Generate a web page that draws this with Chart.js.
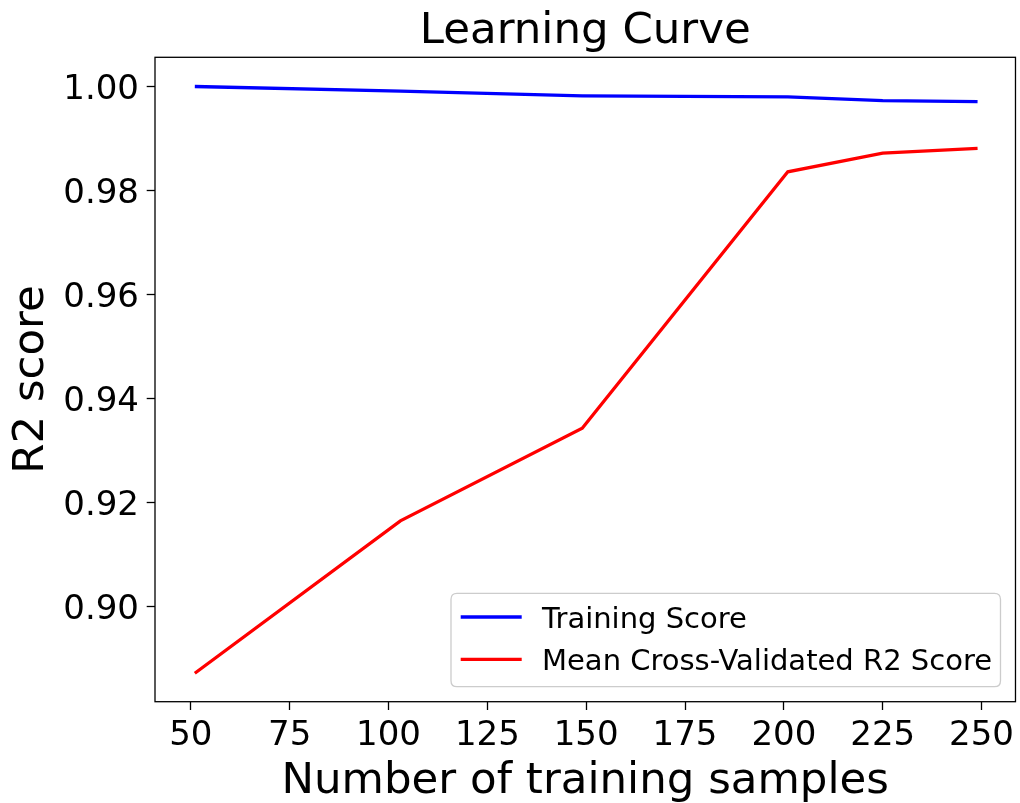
<!DOCTYPE html>
<html>
<head>
<meta charset="utf-8">
<title>Learning Curve</title>
<script src="https://cdn.jsdelivr.net/npm/chart.js@4.4.1/dist/chart.umd.min.js"></script>
<style>
  html, body { margin: 0; padding: 0; background: #ffffff; }
  canvas { display: block; }
</style>
</head>
<body>
<canvas id="chart" width="1020" height="803"></canvas>
<script>
// Training-set sizes and the scores at each size
const trainSizes = [51, 103, 149, 201, 225, 249];
const trainingScore = [1.0000, 0.9991, 0.9982, 0.9980, 0.9973, 0.9971];
const cvScore = [0.8872, 0.9165, 0.9343, 0.9836, 0.9872, 0.9881];

// Tick positions on both axes
const xTicks = [50, 75, 100, 125, 150, 175, 200, 225, 250];
const yTicks = [0.90, 0.92, 0.94, 0.96, 0.98, 1.00];

const FONT = "'DejaVu Sans', 'Liberation Sans', sans-serif";
Chart.defaults.font.family = FONT;
Chart.defaults.color = '#000000';

const toPoints = (xs, ys) => xs.map((x, i) => ({ x: x, y: ys[i] }));

// Frame around the plot area, the title above it and a boxed legend in its lower right corner
const framePlugin = {
  id: 'frameAndLegend',
  afterDraw(chart) {
    const { ctx, chartArea: a } = chart;
    ctx.save();

    // plot frame
    ctx.strokeStyle = '#000000';
    ctx.lineWidth = 1.3;
    ctx.strokeRect(a.left, a.top, a.right - a.left, a.bottom - a.top);

    // title
    ctx.fillStyle = '#000000';
    ctx.font = '43.5px ' + FONT;
    ctx.textAlign = 'center';
    ctx.textBaseline = 'alphabetic';
    ctx.fillText('Learning Curve', (a.left + a.right) / 2, 42.7);

    // legend
    const boxRight = a.right - 15, boxBottom = a.bottom - 15;
    const boxLeft = 451, boxTop = 593.3;
    const r = 6;
    ctx.beginPath();
    ctx.moveTo(boxLeft + r, boxTop);
    ctx.lineTo(boxRight - r, boxTop);
    ctx.quadraticCurveTo(boxRight, boxTop, boxRight, boxTop + r);
    ctx.lineTo(boxRight, boxBottom - r);
    ctx.quadraticCurveTo(boxRight, boxBottom, boxRight - r, boxBottom);
    ctx.lineTo(boxLeft + r, boxBottom);
    ctx.quadraticCurveTo(boxLeft, boxBottom, boxLeft, boxBottom - r);
    ctx.lineTo(boxLeft, boxTop + r);
    ctx.quadraticCurveTo(boxLeft, boxTop, boxLeft + r, boxTop);
    ctx.closePath();
    ctx.fillStyle = 'rgba(255,255,255,0.8)';
    ctx.fill();
    ctx.strokeStyle = '#cccccc';
    ctx.lineWidth = 1.3;
    ctx.stroke();

    ctx.font = '29px ' + FONT;
    ctx.textAlign = 'left';
    chart.data.datasets.forEach((ds, i) => {
      const rowY = 617 + i * 42.3;
      ctx.strokeStyle = ds.borderColor;
      ctx.lineWidth = ds.borderWidth;
      ctx.beginPath();
      ctx.moveTo(460.7, rowY);
      ctx.lineTo(521.7, rowY);
      ctx.stroke();
      ctx.fillStyle = '#000000';
      ctx.fillText(ds.label, 542, rowY + 10.6);
    });
    ctx.restore();
  }
};

new Chart(document.getElementById('chart'), {
  type: 'line',
  data: {
    datasets: [
      {
        label: 'Training Score',
        data: toPoints(trainSizes, trainingScore),
        borderColor: '#0000ff',
        backgroundColor: '#0000ff',
        borderWidth: 3.3,
        pointRadius: 0,
        tension: 0,
        fill: false
      },
      {
        label: 'Mean Cross-Validated R2 Score',
        data: toPoints(trainSizes, cvScore),
        borderColor: '#ff0000',
        backgroundColor: '#ff0000',
        borderWidth: 3.3,
        pointRadius: 0,
        tension: 0,
        fill: false
      }
    ]
  },
  options: {
    responsive: false,
    animation: false,
    devicePixelRatio: 1,
    layout: { padding: { top: 57.3, right: 0.7, bottom: 0, left: 0 } },
    plugins: {
      legend: { display: false },
      title: { display: false },
      tooltip: { enabled: false }
    },
    scales: {
      x: {
        type: 'linear',
        position: 'bottom',
        min: 40.93,
        max: 258.59,
        afterBuildTicks: axis => { axis.ticks = xTicks.map(v => ({ value: v })); },
        afterFit: scale => { scale.height = 101.3; },
        border: { display: false },
        grid: {
          drawOnChartArea: false,
          drawTicks: true,
          tickLength: 8.3,
          tickColor: '#000000',
          tickWidth: 1.3
        },
        ticks: {
          autoSkip: false,
          maxRotation: 0,
          padding: 6,
          color: '#000000',
          font: { size: 34, family: FONT },
          callback: v => String(v)
        },
        title: {
          display: true,
          text: 'Number of training samples',
          color: '#000000',
          font: { size: 43.5, family: FONT, lineHeight: 1 },
          padding: { top: 0, bottom: -0.8 }
        }
      },
      y: {
        type: 'linear',
        position: 'left',
        min: 0.88173,
        max: 1.005613,
        afterBuildTicks: axis => { axis.ticks = yTicks.map(v => ({ value: v })); },
        afterFit: scale => { scale.width = 155; },
        border: { display: false },
        grid: {
          drawOnChartArea: false,
          drawTicks: true,
          tickLength: 8.3,
          tickColor: '#000000',
          tickWidth: 1.3
        },
        ticks: {
          padding: 7.7,
          labelOffset: 4,
          color: '#000000',
          font: { size: 34, family: FONT },
          callback: v => Number(v).toFixed(2)
        },
        title: {
          display: true,
          text: 'R2 score',
          color: '#000000',
          font: { size: 43.5, family: FONT, lineHeight: 1 },
          padding: { top: 10.4, bottom: 0 }
        }
      }
    }
  },
  plugins: [framePlugin]
});
</script>
</body>
</html>
